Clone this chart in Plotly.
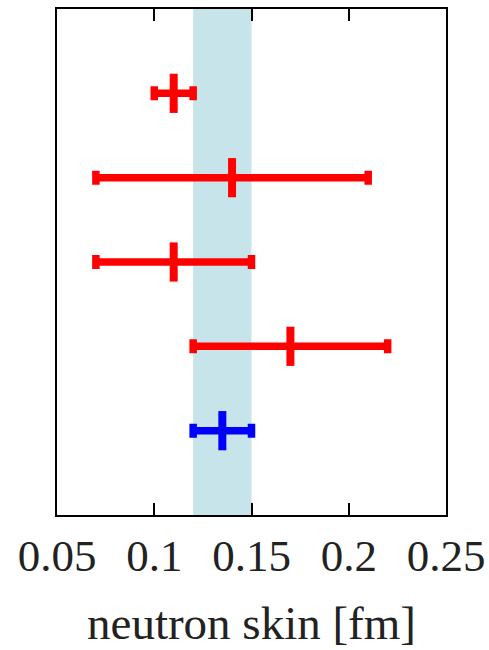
import plotly.graph_objects as go

# Data
rows = [1, 2, 3, 4, 5]  # top to bottom
centers = [0.11, 0.14, 0.11, 0.17, 0.135]
lowers = [0.10, 0.07, 0.07, 0.12, 0.12]
uppers = [0.12, 0.21, 0.15, 0.22, 0.15]
colors = ["#ff0000", "#ff0000", "#ff0000", "#ff0000", "#0000ff"]
band = [0.12, 0.15]
tick_vals = [0.05, 0.1, 0.15, 0.2, 0.25]
tick_text = ["0.05", "0.1", "0.15", "0.2", "0.25"]

fig = go.Figure()
for r, c, lo, up, col in zip(rows, centers, lowers, uppers, colors):
    fig.add_trace(go.Scatter(
        x=[c], y=[r], mode="markers",
        marker=dict(symbol="line-ns", size=28, color=col,
                    line=dict(color=col, width=8)),
        error_x=dict(type="data", symmetric=False,
                     array=[up - c], arrayminus=[c - lo],
                     color=col, thickness=7.5, width=7),
        showlegend=False,
    ))

fig.add_shape(type="rect", xref="x", yref="paper",
              x0=band[0], x1=band[1], y0=0, y1=1,
              fillcolor="#c7e4ea", line=dict(width=0), layer="below")

serif = "Liberation Serif"
fig.update_layout(
    width=489, height=650,
    margin=dict(l=57, r=43, t=9, b=135, autoexpand=False),
    plot_bgcolor="white", paper_bgcolor="white",
    xaxis=dict(range=[0.05, 0.25], tickvals=tick_vals, ticktext=tick_text,
               automargin=False,
               ticks="inside", ticklen=12, tickwidth=1.5, tickcolor="black",
               showline=True, linecolor="black", linewidth=2, mirror="ticks",
               showgrid=False, zeroline=False,
               tickfont=dict(family=serif, size=45, color="#222"),
               title=dict(text="neutron skin [fm]", standoff=26,
                          font=dict(family=serif, size=47, color="#222"))),
    yaxis=dict(range=[6, 0], showticklabels=False, ticks="", automargin=False,
               showline=True, linecolor="black", linewidth=2, mirror=True,
               showgrid=False, zeroline=False),
)

fig.write_html("out.html")
